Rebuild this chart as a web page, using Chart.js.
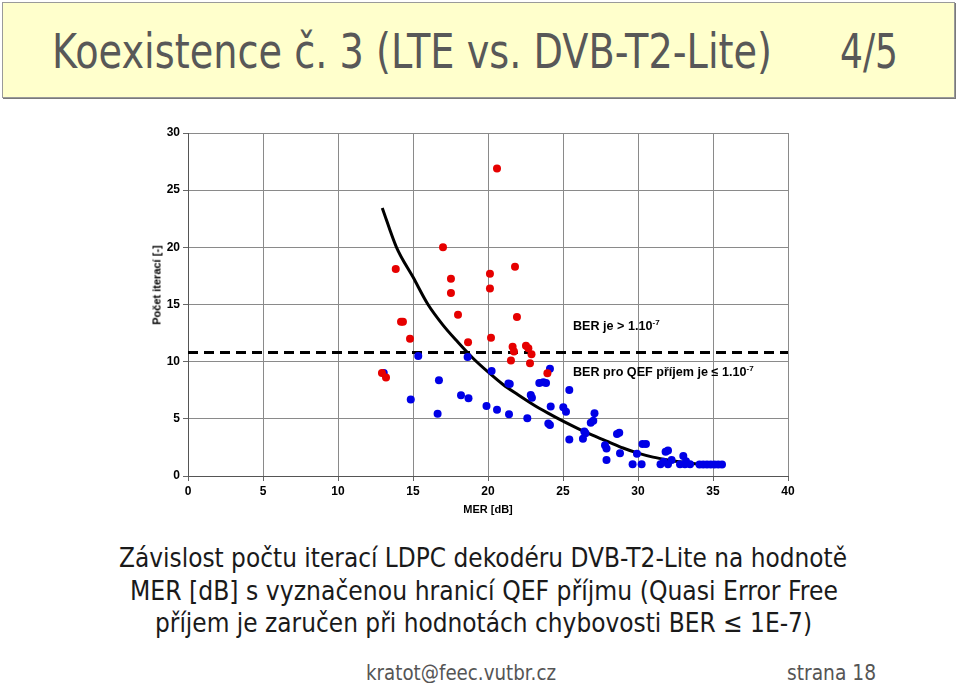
<!DOCTYPE html>
<html>
<head>
<meta charset="utf-8">
<script src="https://cdn.jsdelivr.net/npm/chart.js@4.4.1/dist/chart.umd.min.js"></script>
<style>
  html, body { margin:0; padding:0; background:#fff; width:960px; height:683px; overflow:hidden; position:relative; }
  #titlebox { position:absolute; left:2px; top:2px; width:951px; height:94px; background:#ffffcc; border:1px solid #9a9a9a; box-shadow:1px 1px 0 #7a7a7a; }
  .fit { position:absolute; white-space:nowrap; transform-origin:0 0; font-family:"DejaVu Sans", sans-serif; }
  .ttl { font-size:48px; line-height:48px; color:#585858; }
  .cap { font-size:27px; line-height:27px; color:#1a1a1a; }
  .foot { font-size:22px; line-height:22px; color:#555; }
  .ann { position:absolute; white-space:nowrap; font-family:"Liberation Sans", Arial, sans-serif; font-weight:bold; font-size:12.6px; line-height:14px; color:#000; }
  .ann sup { font-size:8px; vertical-align:5px; line-height:0; }
  #ytitle { position:absolute; white-space:nowrap; font-family:"Liberation Sans", Arial, sans-serif; font-weight:bold; font-size:11px; line-height:13px; color:#000; transform:translate(-50%,-50%) rotate(-90deg); left:157px; top:285px; }
  #chart { position:absolute; left:100px; top:115px; }
</style>
</head>
<body>
<div id="titlebox"></div>
<div class="fit ttl" data-w="720" style="left:52px; top:27px;">Koexistence č. 3 (LTE vs. DVB-T2-Lite)</div>
<div class="fit ttl" data-w="58" style="left:840px; top:27px;">4/5</div>

<canvas id="chart" width="720" height="406"></canvas>
<div id="ytitle">Počet iterací [-]</div>
<div class="ann" style="left:573px; top:319px;">BER je &gt; 1.10<sup>-7</sup></div>
<div class="ann" style="left:573px; top:365px;">BER pro QEF příjem je ≤ 1.10<sup>-7</sup></div>

<div class="fit cap" data-w="728" style="left:119px; top:544px;">Závislost počtu iterací LDPC dekodéru DVB-T2-Lite na hodnotě</div>
<div class="fit cap" data-w="708" style="left:130px; top:577px;">MER [dB] s vyznačenou hranicí QEF příjmu (Quasi Error Free</div>
<div class="fit cap" data-w="657" style="left:155px; top:609px;">příjem je zaručen při hodnotách chybovosti BER ≤ 1E-7)</div>

<div class="fit foot" data-w="190" style="left:366px; top:662px;">kratot@feec.vutbr.cz</div>
<div class="fit foot" data-w="89" style="left:787px; top:662px;">strana 18</div>

<script>
// ---- data ----
const redMer  = [20.6, 17.0, 13.85, 20.13, 21.8, 17.53, 17.53, 20.13, 18.0, 21.93, 14.2, 14.33, 14.8, 18.67, 20.2, 21.64, 21.73, 21.53, 22.53, 22.69, 22.9, 22.8, 23.96, 12.93, 13.2];
const redIter = [26.9, 20.0, 18.1, 17.7, 18.3, 17.25, 16.0, 16.4, 14.1, 13.9, 13.5, 13.5, 12.0, 11.7, 12.1, 11.3, 10.9, 10.1, 11.4, 11.17, 10.65, 9.86, 8.98, 9.0, 8.62];

const blueMer  = [13.05, 15.35, 16.73, 14.85, 16.64, 18.2, 18.7, 18.64, 20.24, 19.9, 20.6, 21.36, 21.45, 21.4, 22.62, 22.85, 22.93, 23.42, 23.69, 23.87, 24.13, 24.02, 24.13, 24.18, 25.02, 25.2, 25.42, 25.42, 26.33, 26.42, 26.5, 26.85, 27.02, 27.1, 27.8, 27.9, 27.9, 28.6, 28.75, 28.8, 29.64, 29.93, 30.24, 30.3, 30.53, 31.5, 31.71, 31.84, 32.0, 32.0, 32.24, 32.8, 33.02, 33.13, 33.2, 33.47, 34.1, 34.35, 34.6, 34.85, 35.1, 35.35, 35.6];
const blueIter = [9.0, 10.5, 8.37, 6.7, 5.45, 7.06, 6.8, 10.4, 9.19, 6.12, 5.8, 8.1, 8.05, 5.4, 5.05, 7.09, 6.85, 8.14, 8.2, 8.14, 9.39, 4.6, 4.46, 6.07, 6.01, 5.63, 7.52, 3.2, 3.25, 3.9, 3.75, 4.66, 4.84, 5.48, 2.68, 2.4, 1.4, 3.67, 3.79, 1.98, 1.03, 1.95, 1.03, 2.8, 2.8, 1.03, 1.25, 2.13, 2.22, 1.03, 1.4, 1.03, 1.75, 1.03, 1.3, 1.03, 1.0, 1.0, 1.0, 1.0, 1.0, 1.0, 1.0];

const trendMer  = [12.95, 13.9, 15.0, 16.0, 17.0, 18.0, 19.0, 20.0, 21.0, 22.0, 23.0, 24.0, 25.0, 26.0, 27.0, 28.0, 29.0, 30.0, 31.0, 32.0, 33.0, 34.0, 35.0, 35.7];
const trendIter = [23.45, 20.0, 17.4, 15.0, 13.2, 11.7, 10.3, 9.1, 8.0, 7.1, 6.25, 5.5, 4.8, 4.15, 3.55, 3.0, 2.45, 2.0, 1.65, 1.4, 1.2, 1.05, 0.98, 0.96];

const qefLimit = 10.8;
const merRange = [0, 40];
const iterRange = [0, 30];
const tickStep = 5;

// ---- helpers ----
const pts = (xs, ys) => xs.map((x, i) => ({ x: x, y: ys[i] }));
const tickFont = { family: "'Liberation Sans', Arial, sans-serif", size: 12, weight: 'bold' };
const titleFont = { family: "'Liberation Sans', Arial, sans-serif", size: 11, weight: 'bold' };

new Chart(document.getElementById('chart'), {
  type: 'scatter',
  data: {
    datasets: [
      { label: 'BER > 1E-7', data: pts(redMer, redIter), backgroundColor: '#e60000', borderColor: '#e60000', pointRadius: 4, pointBorderWidth: 0, order: 0 },
      { label: 'BER <= 1E-7', data: pts(blueMer, blueIter), backgroundColor: '#0000e6', borderColor: '#0000e6', pointRadius: 4, pointBorderWidth: 0, order: 1 },
      { label: 'trend', data: pts(trendMer, trendIter), showLine: true, borderColor: '#000', borderWidth: 3, pointRadius: 0, cubicInterpolationMode: 'monotone', fill: false, order: 2 },
      { label: 'QEF', data: pts(merRange, [qefLimit, qefLimit]), showLine: true, borderColor: '#000', borderWidth: 3, borderDash: [10, 6], pointRadius: 0, fill: false, order: 3 }
    ]
  },
  options: {
    responsive: false,
    animation: false,
    devicePixelRatio: 1,
    layout: { padding: { top: 18, right: 32, left: 0, bottom: 0 } },
    plugins: { legend: { display: false }, tooltip: { enabled: false } },
    scales: {
      x: {
        type: 'linear', min: merRange[0], max: merRange[1],
        ticks: { stepSize: tickStep, font: tickFont, color: '#000', padding: 3, maxRotation: 0 },
        grid: { color: '#8a8a8a', lineWidth: 1, tickLength: 5, tickColor: '#666' },
        border: { display: true, color: '#555', width: 1 },
        title: { display: true, text: 'MER [dB]', font: titleFont, color: '#000', padding: { top: 0, bottom: 4 } },
        afterFit: (s) => { s.height = 45; }
      },
      y: {
        type: 'linear', min: iterRange[0], max: iterRange[1],
        ticks: { stepSize: tickStep, font: tickFont, color: '#000', padding: 3 },
        grid: { color: '#8a8a8a', lineWidth: 1, tickLength: 5, tickColor: '#666' },
        border: { display: true, color: '#555', width: 1 },
        afterFit: (s) => { s.width = 88; }
      }
    }
  }
});

// fit slide texts horizontally to their target widths
document.querySelectorAll('.fit').forEach(el => {
  const w = el.getBoundingClientRect().width;
  const target = parseFloat(el.dataset.w);
  if (w > 0) el.style.transform = 'scaleX(' + (target / w) + ')';
});
</script>
</body>
</html>
